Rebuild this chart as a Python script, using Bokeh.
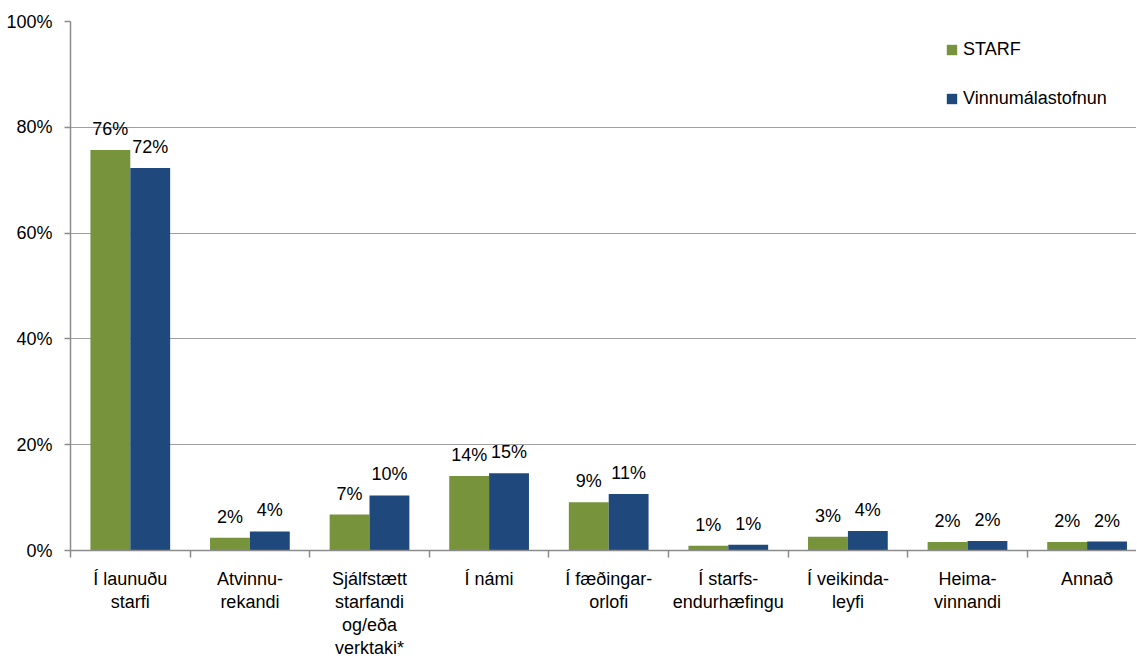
from bokeh.plotting import figure
from bokeh.models import (ColumnDataSource, Range1d, FixedTicker, LinearAxis, Legend, LegendItem)
from bokeh.transform import dodge
from bokeh.core.properties import value
from bokeh.embed import file_html
from bokeh.resources import INLINE

categories = ["Í launuðu\nstarfi", "Atvinnu-\nrekandi", "Sjálfstætt\nstarfandi\nog/eða\nverktaki*",
              "Í námi", "Í fæðingar-\norlofi", "Í starfs-\nendurhæfingu", "Í veikinda-\nleyfi",
              "Heima-\nvinnandi", "Annað"]
starf = [75.7, 2.4, 6.8, 14.1, 9.1, 0.9, 2.6, 1.6, 1.6]
vinnu = [72.3, 3.6, 10.4, 14.6, 10.7, 1.1, 3.7, 1.8, 1.7]
series_names = ["STARF", "Vinnumálastofnun"]
y_ticks = [0, 20, 40, 60, 80, 100]

FONT = "Liberation Sans"
FS = "18px"
GREEN = "#77933C"
BLUE = "#1F497D"

xc = [i + 0.5 for i in range(len(categories))]
src = ColumnDataSource(dict(
    x=xc, starf=starf, vinnu=vinnu,
    lab_s=[f"{round(v)}%" for v in starf],
    lab_v=[f"{round(v)}%" for v in vinnu],
))

W, H = 1136, 660
left, top = 70, 21
frame_w = W - left
cat_px = 119.6
p = figure(width=W, height=H, output_backend="svg", toolbar_location=None,
           x_range=Range1d(0, frame_w / cat_px), y_range=Range1d(0, 100),
           min_border_left=left, min_border_right=0, min_border_top=top, min_border_bottom=10,
           x_axis_location=None, y_axis_location=None)
p.outline_line_color = None
p.background_fill_color = "white"

bw = 1 / 3
r1 = p.vbar(x=dodge("x", -bw / 2, range=p.x_range), top="starf", width=bw, source=src,
            fill_color=GREEN, line_color=None)
r2 = p.vbar(x=dodge("x", bw / 2, range=p.x_range), top="vinnu", width=bw, source=src,
            fill_color=BLUE, line_color=None)

for col, lab, off in (("starf", "lab_s", -bw / 2), ("vinnu", "lab_v", bw / 2)):
    p.text(x=dodge("x", off, range=p.x_range), y=col, text=lab, source=src,
           text_font=value(FONT), text_font_size=FS, text_color="black",
           text_align="center", text_baseline="bottom", y_offset=-11)

# y axis
yax = LinearAxis(ticker=FixedTicker(ticks=y_ticks))
yax.major_label_overrides = {t: f"{t}%" for t in y_ticks}
yax.major_label_text_font = FONT
yax.major_label_text_font_size = FS
yax.major_label_text_color = "black"
yax.major_label_standoff = 12
yax.axis_line_color = "#8c8c8c"
yax.axis_line_width = 1.5
yax.major_tick_line_color = "#8c8c8c"
yax.major_tick_line_width = 1.5
yax.major_tick_out = 6
yax.major_tick_in = 0
yax.minor_tick_line_color = None
p.add_layout(yax, "left")

# x axis: boundary ticks
xax = LinearAxis(ticker=FixedTicker(ticks=list(range(len(categories) + 1))))
xax.major_label_text_font_size = "0px"
xax.major_label_text_alpha = 0
xax.axis_line_color = "#8c8c8c"
xax.axis_line_width = 1.5
xax.major_tick_line_color = "#8c8c8c"
xax.major_tick_line_width = 1.5
xax.major_tick_out = 7
xax.major_tick_in = 0
xax.minor_tick_line_color = None
xax.major_label_standoff = 0
p.add_layout(xax, "below")

# category labels axis
cax = LinearAxis(ticker=FixedTicker(ticks=xc))
cax.major_label_overrides = {x: c for x, c in zip(xc, categories)}
cax.major_label_text_font = FONT
cax.major_label_text_font_size = FS
cax.major_label_text_color = "black"
cax.major_label_text_line_height = 1.15
cax.major_label_standoff = 5
cax.axis_line_color = None
cax.major_tick_line_color = None
cax.minor_tick_line_color = None
p.add_layout(cax, "below")

p.xgrid.visible = False
p.ygrid.ticker = FixedTicker(ticks=y_ticks)
p.ygrid.grid_line_color = "#a0a0a0"
p.ygrid.grid_line_width = 1

legend = Legend(items=[LegendItem(label=series_names[0], renderers=[r1]),
                       LegendItem(label=series_names[1], renderers=[r2])],
                location=(875, 440))
legend.border_line_color = None
legend.background_fill_alpha = 0
legend.padding = 0
legend.margin = 0
legend.glyph_width = 13
legend.glyph_height = 13
legend.label_height = 23
legend.spacing = 26
legend.label_standoff = 5
legend.label_text_font = FONT
legend.label_text_font_size = FS
legend.label_text_color = "black"
p.add_layout(legend, "center")

open("out.html", "w").write(file_html(p, INLINE))
